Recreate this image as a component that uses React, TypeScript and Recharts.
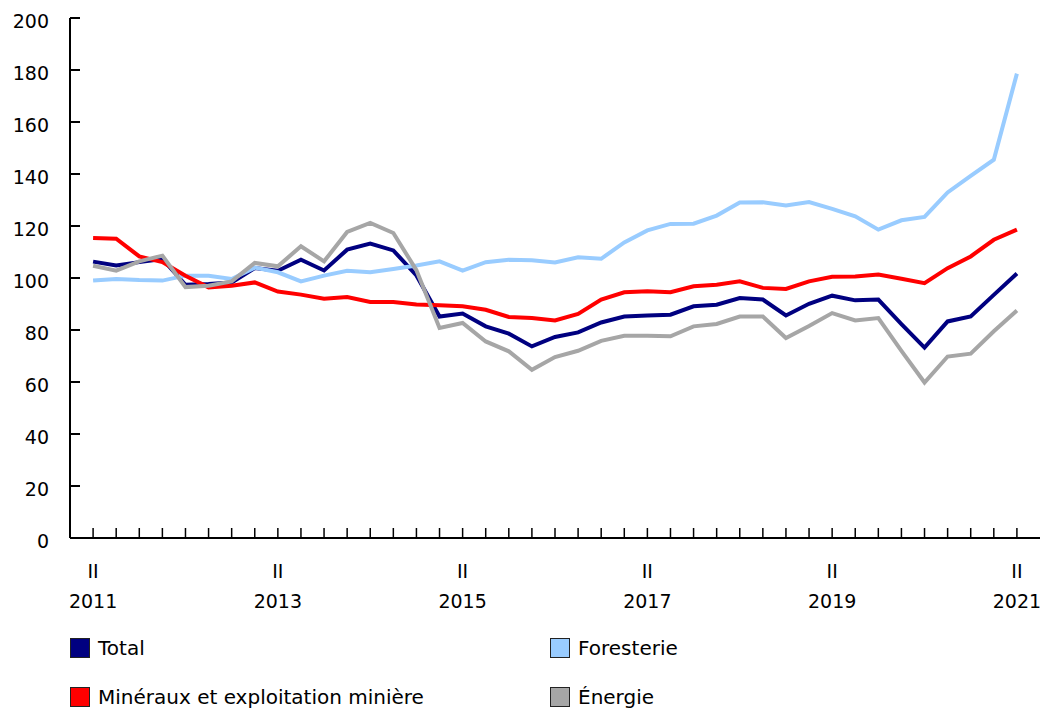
import React from 'react';
import { LineChart, Line, XAxis, YAxis } from 'recharts';

const quarters = [
  'II 2011', 'III 2011', 'IV 2011',
  'I 2012', 'II 2012', 'III 2012', 'IV 2012',
  'I 2013', 'II 2013', 'III 2013', 'IV 2013',
  'I 2014', 'II 2014', 'III 2014', 'IV 2014',
  'I 2015', 'II 2015', 'III 2015', 'IV 2015',
  'I 2016', 'II 2016', 'III 2016', 'IV 2016',
  'I 2017', 'II 2017', 'III 2017', 'IV 2017',
  'I 2018', 'II 2018', 'III 2018', 'IV 2018',
  'I 2019', 'II 2019', 'III 2019', 'IV 2019',
  'I 2020', 'II 2020', 'III 2020', 'IV 2020',
  'I 2021', 'II 2021',
];

const total = [106.3, 104.8, 106.1, 107.3, 97.4, 97.7, 98.3, 103.8, 102.8, 107, 102.9, 110.9, 113.2, 110.6, 101, 85.2, 86.3, 81.4, 78.6, 73.7, 77.3, 79.1, 82.9, 85.2, 85.6, 85.9, 89.1, 89.7, 92.3, 91.7, 85.6, 90.1, 93.2, 91.4, 91.7, 82.3, 73.2, 83.3, 85.2, 93.5, 101.7];
const foresterie = [99, 99.6, 99.2, 99, 100.9, 100.9, 99.6, 104, 102.2, 98.7, 100.9, 102.8, 102.2, 103.5, 104.8, 106.4, 102.8, 106.1, 107, 106.8, 106, 108, 107.4, 113.7, 118.3, 120.8, 120.9, 124, 129, 129.1, 127.9, 129.2, 126.6, 123.7, 118.6, 122.2, 123.5, 132.9, 139.3, 145.5, 178.6];
const mineraux = [115.4, 115.1, 108.3, 106.1, 100.9, 96.4, 97, 98.3, 94.8, 93.6, 92, 92.7, 90.8, 90.8, 89.8, 89.5, 89.1, 87.8, 85, 84.6, 83.7, 86.2, 91.7, 94.5, 94.9, 94.5, 96.8, 97.4, 98.7, 96.2, 95.8, 98.7, 100.5, 100.6, 101.3, 99.7, 98, 103.8, 108.3, 114.7, 118.6];
const energie = [104.7, 102.8, 106.4, 108.6, 96.5, 97, 98.7, 105.8, 104.5, 112.2, 106.4, 117.7, 121.2, 117.3, 103, 80.8, 82.7, 75.6, 71.8, 64.7, 69.6, 72, 75.8, 77.8, 77.8, 77.6, 81.4, 82.3, 85.2, 85.2, 76.9, 81.5, 86.5, 83.7, 84.6, 72, 59.8, 69.8, 70.9, 79.5, 87.5];

const yTicks = [0, 20, 40, 60, 80, 100, 120, 140, 160, 180, 200];
const xTicks = quarters.map((_, i) => i);

const seriesNames = ['Total', 'Foresterie', 'Minéraux et exploitation minière', 'Énergie'];
const seriesKeys = ['total', 'foresterie', 'mineraux', 'energie'];
const seriesColors = ['#000080', '#99CCFF', '#FF0000', '#A6A6A6'];

const data = quarters.map((q, i) => ({
  idx: i,
  quarter: q,
  total: total[i],
  foresterie: foresterie[i],
  mineraux: mineraux[i],
  energie: energie[i],
}));

const FONT = '"DejaVu Sans", Verdana, sans-serif';
const FS = 19;

const YTick = (props: any) => {
  const { x, y, payload } = props;
  return (
    <g>
      <line x1={x} x2={x + 10} y1={y} y2={y} stroke="#000" strokeWidth={2} />
      <text x={x - 21} y={y + 10} textAnchor="end" fontSize={FS} fontFamily={FONT} fill="#000">
        {payload.value}
      </text>
    </g>
  );
};

const XTick = (props: any) => {
  const { x, y, payload } = props;
  const i = payload.value as number;
  const label = quarters[i] || '';
  const [q, yr] = label.split(' ');
  const show = i % 8 === 0;
  return (
    <g>
      <line x1={x} x2={x} y1={y} y2={y - 10} stroke="#000" strokeWidth={1.5} />
      {show && (
        <>
          <text x={x} y={y + 40} textAnchor="middle" fontSize={FS} fontFamily={FONT} fill="#000">{q}</text>
          <text x={x} y={y + 70} textAnchor="middle" fontSize={FS} fontFamily={FONT} fill="#000">{yr}</text>
        </>
      )}
    </g>
  );
};

const legendPos = [
  { left: 70, top: 638 },
  { left: 550, top: 638 },
  { left: 70, top: 687 },
  { left: 550, top: 687 },
];

export default function App() {
  return (
    <div style={{ position: 'absolute', left: 0, top: 0, width: 1043, height: 711, background: '#fff' }}>
      <LineChart
        width={1043}
        height={711}
        data={data}
        margin={{ top: 18, right: 3, bottom: 0, left: 10 }}
      >
        <XAxis
          dataKey="idx"
          type="number"
          domain={[-1, 41]}
          ticks={xTicks}
          interval={0}
          height={173}
          tickSize={0}
          tickMargin={0}
          tickLine={false}
          axisLine={{ stroke: '#000', strokeWidth: 2 }}
          tick={<XTick />}
          allowDecimals={false}
        />
        <XAxis
          xAxisId="top"
          orientation="top"
          dataKey="idx"
          type="number"
          domain={[-1, 41]}
          height={0}
          tick={false}
          tickLine={false}
          axisLine={{ stroke: '#000', strokeWidth: 1 }}
        />
        <YAxis
          type="number"
          domain={[0, 200]}
          ticks={yTicks}
          interval={0}
          width={60}
          tickSize={0}
          tickMargin={0}
          tickLine={false}
          axisLine={{ stroke: '#000', strokeWidth: 2 }}
          tick={<YTick />}
        />
        <YAxis
          yAxisId="right"
          orientation="right"
          type="number"
          domain={[0, 200]}
          width={0}
          tick={false}
          tickLine={false}
          axisLine={{ stroke: '#555', strokeWidth: 1 }}
        />
        {seriesKeys.map((k, i) => (
          <Line
            key={k}
            dataKey={k}
            type="linear"
            stroke={seriesColors[i]}
            strokeWidth={4}
            dot={false}
            activeDot={false}
            isAnimationActive={false}
          />
        ))}
      </LineChart>
      {seriesNames.map((name, i) => (
        <div
          key={name}
          style={{
            position: 'absolute',
            left: legendPos[i].left,
            top: legendPos[i].top,
            height: 20,
            display: 'flex',
            alignItems: 'center',
            fontFamily: FONT,
            fontSize: 20,
            color: '#000',
            whiteSpace: 'nowrap',
          }}
        >
          <div
            style={{
              width: 18,
              height: 18,
              background: seriesColors[i],
              border: '1.5px solid #222',
              marginRight: 8,
              boxSizing: 'content-box',
            }}
          />
          <span>{name}</span>
        </div>
      ))}
    </div>
  );
}
